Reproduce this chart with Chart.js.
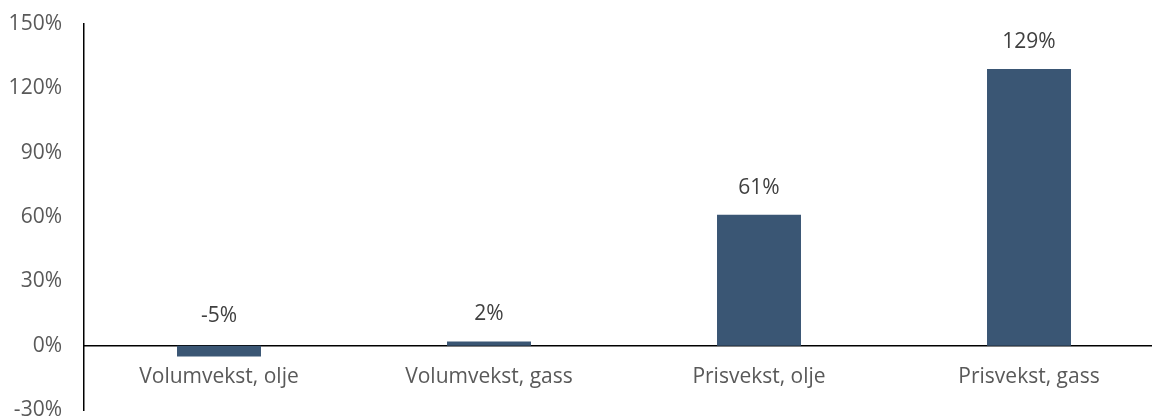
<!DOCTYPE html>
<html>
<head>
<meta charset="utf-8">
<script src="https://cdn.jsdelivr.net/npm/chart.js@4"></script>
<style>
  html, body { margin: 0; padding: 0; background: #fff; overflow: hidden; }
  #wrap { width: 1164px; height: 417px; position: relative; }
</style>
</head>
<body>
<div id="wrap"><canvas id="chart"></canvas></div>
<script>
const categories = ["Volumvekst, olje", "Volumvekst, gass", "Prisvekst, olje", "Prisvekst, gass"];
const growth = [-5, 2, 61, 129];
const yMin = -30;
const yMax = 150;
const yStep = 30;

const FONT = "'Open Sans', sans-serif";
const BAR_COLOR = "#3a5674";
const TEXT_COLOR = "#595959";

// value labels above each bar (negative one sits above the zero line)
const valueLabels = {
  id: "valueLabels",
  afterDatasetsDraw(chart) {
    const ctx = chart.ctx;
    const meta = chart.getDatasetMeta(0);
    ctx.save();
    ctx.font = "21px " + FONT;
    ctx.fillStyle = "#404040";
    ctx.textAlign = "center";
    ctx.textBaseline = "middle";
    meta.data.forEach((bar, i) => {
      const top = Math.min(bar.y, bar.base);
      const gap = growth[i] < 0 ? 30 : 27;
      ctx.fillText(growth[i] + "%", bar.x, top - gap);
    });
    ctx.restore();
  },
};

new Chart(document.getElementById("chart").getContext("2d"), {
  type: "bar",
  data: {
    labels: categories,
    datasets: [
      {
        data: growth,
        backgroundColor: BAR_COLOR,
        categoryPercentage: 1,
        barPercentage: 0.311,
      },
    ],
  },
  options: {
    responsive: true,
    maintainAspectRatio: false,
    animation: false,
    layout: {
      padding: { top: 24, right: 0, bottom: 7, left: 0 },
    },
    plugins: {
      legend: { display: false },
      tooltip: { enabled: false },
    },
    scales: {
      x: {
        position: { y: 0 },
        grid: { display: false, drawTicks: false },
        border: { color: "#000", width: 1.5 },
        ticks: {
          color: TEXT_COLOR,
          font: { family: FONT, size: 21 },
          padding: 19,
          maxRotation: 0,
        },
      },
      y: {
        min: yMin,
        max: yMax,
        grid: { display: false, drawTicks: false },
        border: { color: "#000", width: 1.5 },
        ticks: {
          stepSize: yStep,
          color: TEXT_COLOR,
          font: { family: FONT, size: 21 },
          padding: 22,
          callback: (v) => v + "%",
        },
        afterFit(scale) {
          scale.width = 84;
          scale.paddingTop = 0;
          scale.paddingBottom = 0;
        },
      },
    },
  },
  plugins: [valueLabels],
});
</script>
</body>
</html>
